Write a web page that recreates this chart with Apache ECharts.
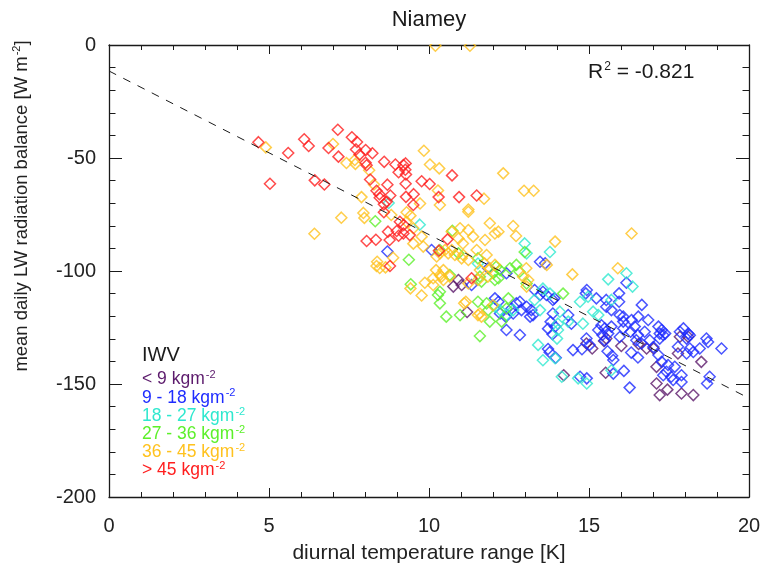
<!DOCTYPE html>
<html>
<head>
<meta charset="utf-8">
<script src="https://cdn.jsdelivr.net/npm/echarts@6/dist/echarts.min.js"></script>
<style>
  html, body { margin: 0; padding: 0; background: #ffffff; }
  #chart { width: 764px; height: 577px; }
</style>
</head>
<body>
<div id="chart"></div>
<script>
// IWV classes (integrated water vapour) and their colours
const iwvLabels = ['< 9 kgm', '9 - 18 kgm', '18 - 27 kgm', '27 - 36 kgm', '36 - 45 kgm', '> 45 kgm'];
const iwvColors = ['#5c1a6c', '#1e2cff', '#2ee8cf', '#5cf02a', '#ffc21e', '#ff1e1e'];

// [diurnal temperature range K, mean daily LW balance W m-2]
const iwvLt9 = [
  [10.76,-106.9],[10.92,-104.0],[11.02,-106.2],[11.19,-118.1],[14.92,-132.1],[15.10,-134.3],
  [15.47,-131.0],[15.54,-129.9],[16.01,-133.2],[14.21,-146.1],[15.52,-145.0],[16.55,-132.3],
  [16.80,-134.3],[17.02,-134.3],[17.11,-142.4],[17.11,-149.8],[17.45,-152.5],[17.21,-154.9],
  [17.89,-154.2],[18.26,-154.9],[18.51,-140.2],[17.78,-136.5],[17.84,-129.1],[18.10,-129.1]
];
const iwv9to18 = [
  [8.70,-91.4],[10.08,-90.7],[11.85,-98.8],[12.42,-101.0],[11.33,-106.2],[13.47,-95.9],[13.63,-96.6],
  [12.06,-112.1],[12.17,-113.6],[12.22,-118.8],[12.40,-120.2],[12.42,-126.1],[12.58,-116.6],
  [12.73,-114.3],[12.84,-113.6],[12.89,-117.3],[13.05,-115.8],[13.20,-117.3],[13.25,-119.5],[12.84,-128.3],
  [13.30,-108.4],[13.47,-110.6],[13.56,-109.2],[13.67,-110.6],[13.87,-112.8],[13.92,-112.1],[13.87,-118.8],
  [13.80,-122.5],[13.94,-124.6],[13.72,-125.5],[13.86,-128.0],[12.63,-118.8],[13.16,-120.2],[13.72,-134.5],
  [13.77,-135.9],[13.96,-138.4],[14.35,-119.5],[14.45,-123.3],[14.50,-135.0],[14.78,-134.6],[15.02,-132.7],
  [14.92,-129.9],[15.29,-126.1],[15.60,-127.7],[15.49,-130.7],[15.58,-135.5],[15.72,-137.5],[15.76,-139.4],
  [14.72,-146.8],[14.93,-147.5],[15.76,-145.4],[14.93,-108.4],[14.90,-109.9],[15.23,-112.1],[15.54,-112.8],
  [15.94,-109.9],[15.94,-113.6],[16.17,-105.2],[16.65,-115.0],[15.54,-115.8],[15.70,-117.3],[15.96,-119.5],
  [16.07,-120.2],[15.70,-124.6],[16.07,-125.4],[16.54,-120.2],[16.85,-121.7],[17.17,-124.6],[17.27,-126.1],
  [17.38,-127.7],[17.95,-125.4],[18.10,-127.7],[18.67,-129.9],[15.39,-124.0],[15.49,-125.4],[15.42,-128.3],
  [16.09,-144.2],[16.27,-151.6],[16.32,-136.1],[16.53,-138.3],[16.30,-126.9],[16.48,-130.6],[16.64,-132.1],
  [16.90,-130.6],[17.01,-133.6],[17.21,-127.7],[17.32,-128.3],[17.27,-140.2],[17.47,-141.6],[17.42,-144.6],
  [17.57,-146.8],[17.68,-142.4],[17.89,-149.1],[17.32,-146.1],[17.78,-133.5],[18.05,-136.5],[18.15,-134.3],
  [18.26,-135.8],[18.46,-134.3],[18.77,-146.8],[18.69,-149.8],[19.14,-134.3],[18.05,-129.9],[18.15,-128.4],
  [17.84,-126.9],[15.96,-129.2],[16.07,-122.4],[16.33,-121.7],[16.43,-124.6],[16.53,-128.3],[16.74,-126.9],
  [17.21,-129.9],[18.72,-131.4],[17.17,-137.2],[17.89,-146.1],[17.63,-148.2]
];
const iwv18to27 = [
  [8.74,-69.9],[9.71,-79.5],[12.99,-87.8],[13.05,-92.2],[13.78,-91.6],[11.53,-96.7],[12.06,-115.8],
  [12.22,-117.3],[13.30,-112.8],[13.56,-107.8],[13.78,-110.0],[12.42,-119.5],[12.63,-117.3],[13.47,-117.3],
  [13.41,-132.7],[13.56,-139.5],[14.03,-123.3],[14.03,-126.1],[14.35,-122.4],[14.72,-113.6],[14.81,-123.3],
  [15.13,-118.0],[14.15,-146.8],[14.66,-147.5],[14.93,-149.8],[14.09,-118.0],[13.94,-138.6],[14.00,-129.9],
  [15.70,-143.9],[15.60,-103.7],[16.17,-101.0],[16.36,-106.9],[14.97,-111.4],[15.70,-112.8],[15.29,-119.5]
];
const iwv27to36 = [
  [8.32,-78.0],[9.37,-95.0],[9.43,-105.9],[10.34,-109.2],[10.34,-90.7],[10.73,-82.2],[10.92,-92.2],
  [12.01,-101.0],[12.06,-104.0],[12.17,-103.2],[12.22,-99.6],[12.73,-97.3],[12.83,-100.3],[11.59,-102.5],
  [11.64,-104.7],[10.65,-101.8],[10.28,-110.6],[10.34,-114.3],[10.54,-120.2],[10.97,-119.5],[11.53,-113.6],
  [11.80,-114.3],[11.85,-117.3],[11.59,-128.8],[12.99,-91.6],[12.42,-116.6],[11.90,-122.4],[12.27,-122.4],
  [11.53,-94.4],[12.10,-98.1],[12.53,-98.8],[13.05,-105.5],[14.19,-110.0],[12.48,-112.1]
];
const iwv36to45 = [
  [4.90,-45.3],[7.00,-43.8],[7.42,-52.2],[7.68,-50.9],[7.70,-52.6],[8.13,-55.4],[8.28,-61.7],[7.89,-67.3],
  [9.84,-46.8],[10.03,-52.9],[10.32,-54.6],[10.28,-64.4],[11.72,-68.0],[12.32,-56.8],[12.97,-64.5],
  [13.27,-64.5],[10.20,-0.3],[11.28,-0.3],[10.34,-70.8],[11.23,-72.8],[8.82,-75.2],[7.95,-74.3],
  [7.98,-76.5],[7.26,-76.4],[6.42,-83.5],[9.30,-74.0],[9.42,-75.5],[9.30,-78.2],[9.51,-81.1],[9.51,-87.9],
  [8.38,-95.9],[8.88,-94.1],[8.36,-97.8],[8.46,-98.7],[8.64,-98.4],[9.87,-105.2],[9.42,-107.7],[9.77,-110.8],
  [9.72,-70.1],[9.82,-89.2],[9.77,-84.8],[10.22,-99.6],[10.34,-101.8],[10.45,-99.6],[10.24,-93.6],
  [10.34,-92.2],[10.50,-90.7],[10.60,-92.2],[10.71,-90.7],[10.81,-92.9],[10.71,-82.6],[10.97,-81.1],
  [11.23,-73.8],[11.23,-81.9],[11.38,-84.8],[11.06,-87.8],[10.92,-85.6],[11.90,-78.9],[12.06,-83.4],
  [12.17,-82.6],[11.75,-86.3],[11.49,-90.7],[11.80,-92.9],[12.63,-80.1],[12.72,-84.5],[13.94,-87.0],
  [13.68,-97.3],[11.07,-92.9],[11.23,-95.1],[11.02,-94.4],[11.74,-96.7],[11.59,-99.6],[11.90,-98.8],
  [11.84,-102.5],[12.06,-97.3],[13.04,-98.8],[12.94,-102.5],[13.05,-106.9],[13.10,-104.0],[10.13,-103.2],
  [10.65,-102.5],[10.39,-102.5],[10.45,-104.0],[11.23,-105.5],[11.53,-104.0],[11.15,-113.6],[11.10,-114.3],
  [11.53,-119.5],[11.59,-118.8],[11.64,-120.2],[12.00,-115.2],[14.48,-101.5],[15.90,-98.8],[16.33,-83.4],
  [10.13,-106.2]
];
const iwvGt45 = [
  [4.67,-43.0],[5.60,-47.8],[5.03,-61.4],[6.10,-41.7],[6.24,-44.7],[7.15,-37.5],[6.86,-45.6],[7.17,-49.4],
  [6.43,-59.9],[6.73,-61.7],[7.59,-40.8],[7.75,-42.9],[7.72,-46.2],[8.02,-46.5],[7.83,-48.5],[8.23,-47.9],
  [8.02,-52.1],[8.05,-53.2],[8.60,-51.7],[8.16,-59.5],[8.36,-64.5],[8.45,-66.0],[8.46,-67.6],[8.70,-61.8],
  [8.79,-66.6],[8.95,-52.9],[9.20,-53.1],[9.27,-52.4],[9.26,-55.2],[9.28,-57.3],[9.05,-56.3],[9.27,-61.4],
  [9.28,-67.2],[9.52,-66.0],[9.51,-70.8],[9.77,-60.3],[10.02,-61.5],[10.72,-57.7],[10.30,-67.3],
  [10.94,-67.3],[11.49,-66.6],[8.68,-69.3],[8.59,-70.5],[8.59,-74.0],[9.09,-78.2],[9.21,-79.6],[8.72,-82.6],
  [8.99,-82.3],[9.05,-84.4],[8.77,-86.3],[9.20,-83.4],[9.40,-84.1],[8.05,-86.7],[8.34,-86.2],[8.78,-97.8],
  [10.58,-86.0],[10.31,-91.0],[11.33,-103.2]
];
const iwvSeries = [iwvLt9, iwv9to18, iwv18to27, iwv27to36, iwv36to45, iwvGt45];

// linear fit endpoints and its correlation text
const fitLine = [[0, -11.5], [20, -156.3]];
const fitLabel = '-0.821';

// axis ranges and ticks
const xRange = [0, 20], xStep = 5;
const yRange = [-200, 0], yStep = 50;

const FONT = 'Liberation Sans, Arial, Helvetica, sans-serif';
const INK = '#1a1a1a';

const chart = echarts.init(document.getElementById('chart'), null, { renderer: 'canvas' });

function axisBase(extra) {
  return Object.assign({
    type: 'value',
    splitLine: { show: false },
    axisLine: { show: true, onZero: false, lineStyle: { color: INK, width: 1.3 } },
    axisTick: { show: true, inside: true, lineStyle: { color: INK, width: 1 } },
    minorTick: { show: true, splitNumber: 5, lineStyle: { color: INK, width: 1 } },
    axisLabel: { color: '#222', fontFamily: FONT, fontSize: 20 }
  }, extra);
}

// rich text styles: normal run "a" and raised superscript run "s"
const supRich = (size, supSize, color) => ({
  a: { fontFamily: FONT, fontSize: size, fill: color, color: color, lineHeight: size + 4 },
  s: { fontFamily: FONT, fontSize: supSize, fill: color, color: color, verticalAlign: 'top', padding: [1, 0, 0, 1] }
});

const legendItems = [{
  type: 'text', x: 142, y: 355, z: 20,
  style: { text: 'IWV', fill: INK, font: '20px ' + FONT, verticalAlign: 'middle' }
}];
iwvLabels.forEach((lab, i) => {
  legendItems.push({
    type: 'text', x: 142, y: 379.5 + i * 18.2, z: 20,
    style: {
      text: '{a|' + lab + '}{s|-2}',
      fill: iwvColors[i],
      rich: supRich(17.5, 11, iwvColors[i]),
      verticalAlign: 'middle'
    }
  });
});

const option = {
  animation: false,
  backgroundColor: '#ffffff',
  grid: { left: 109, right: 15, top: 45, bottom: 80, containLabel: false },
  xAxis: [
    axisBase({
      min: xRange[0], max: xRange[1], interval: xStep, position: 'bottom',
      axisTick: { show: true, inside: true, length: 9, lineStyle: { color: INK } },
      minorTick: { show: true, splitNumber: 5, length: 5, lineStyle: { color: INK } },
      axisLabel: { color: '#222', fontFamily: FONT, fontSize: 20, margin: 19 },
      name: 'diurnal temperature range [K]', nameLocation: 'middle', nameGap: 46,
      nameTextStyle: { color: '#222', fontFamily: FONT, fontSize: 21 }
    }),
    axisBase({
      min: xRange[0], max: xRange[1], interval: xStep, position: 'top',
      axisTick: { show: true, inside: true, length: 9, lineStyle: { color: INK } },
      minorTick: { show: true, splitNumber: 5, length: 5, lineStyle: { color: INK } },
      axisLabel: { show: false }
    })
  ],
  yAxis: [
    axisBase({
      min: yRange[0], max: yRange[1], interval: yStep, position: 'left',
      axisTick: { show: true, inside: true, length: 13, lineStyle: { color: INK } },
      minorTick: { show: true, splitNumber: 5, length: 6.5, lineStyle: { color: INK } },
      axisLabel: { color: '#222', fontFamily: FONT, fontSize: 20, margin: 13 }
    }),
    axisBase({
      min: yRange[0], max: yRange[1], interval: yStep, position: 'right',
      axisTick: { show: true, inside: true, length: 13, lineStyle: { color: INK } },
      minorTick: { show: true, splitNumber: 5, length: 6.5, lineStyle: { color: INK } },
      axisLabel: { show: false }
    })
  ],
  series: iwvSeries.map((pts, i) => ({
    type: 'scatter',
    name: iwvLabels[i],
    data: pts,
    symbol: 'diamond',
    symbolSize: 11,
    itemStyle: { color: 'rgba(0,0,0,0)', borderColor: iwvColors[i], borderWidth: 1.5 },
    emphasis: { disabled: true },
    silent: true,
    z: 2
  })).concat([{
    type: 'line',
    data: fitLine,
    showSymbol: false,
    silent: true,
    lineStyle: { color: INK, width: 1, type: [8, 8] },
    z: 3
  }]),
  graphic: [
    // cover above the frame so markers sitting on the top edge are cut off
    { type: 'rect', z: 10, silent: true,
      shape: { x: 109, y: 30, width: 641, height: 14 }, style: { fill: '#ffffff' } },
    { type: 'text', z: 20, x: 429, y: 20,
      style: { text: 'Niamey', fill: INK, font: '22px ' + FONT, align: 'center', verticalAlign: 'middle' } },
    { type: 'text', z: 20, x: 588, y: 72,
      style: { text: '{a|R}{s|2}{a| = ' + fitLabel + '}', fill: INK, rich: supRich(21, 12, INK), verticalAlign: 'middle' } },
    { type: 'text', z: 20, x: 22, y: 206, rotation: Math.PI / 2,
      style: { text: '{a|mean daily LW radiation balance [W m}{s|-2}{a|]}', fill: '#222', rich: supRich(18.5, 11, '#222'),
               align: 'center', verticalAlign: 'middle' } }
  ].concat(legendItems)
};

chart.setOption(option);
</script>
</body>
</html>
